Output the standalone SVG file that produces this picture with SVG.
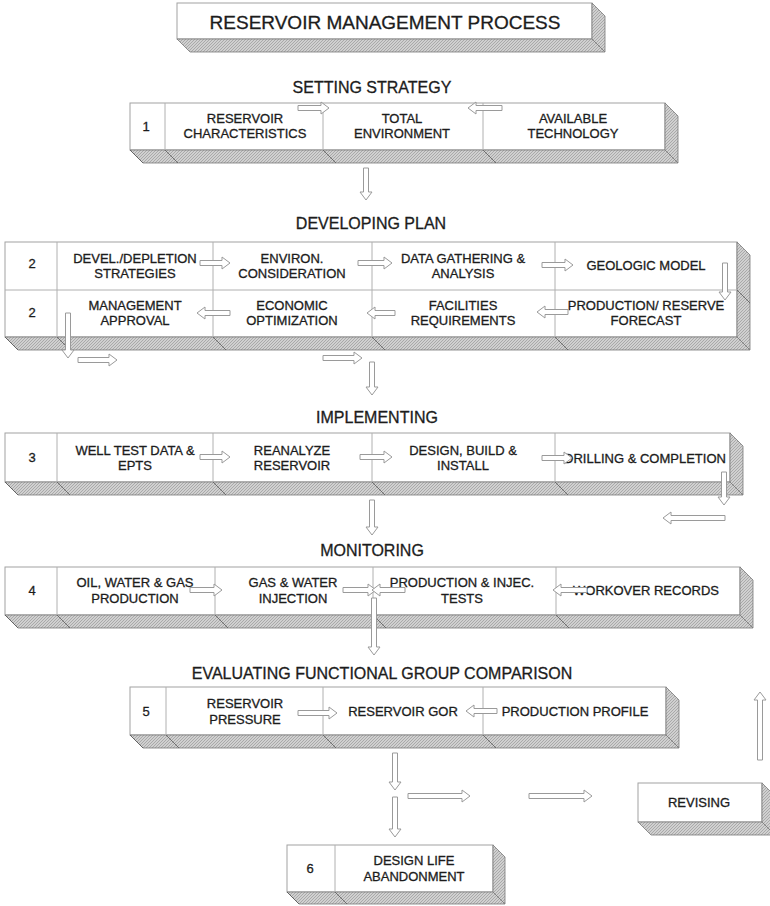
<svg xmlns="http://www.w3.org/2000/svg" width="770" height="906" viewBox="0 0 770 906">
<style>
.front{fill:#fff;stroke:#a2a2a2;stroke-width:1}
.shade{fill:url(#hatch);stroke:#7a7a7a;stroke-width:0.8}
.div{stroke:#b0b0b0;stroke-width:1;fill:none}
.slant{stroke:#5a5a5a;stroke-width:0.8;fill:none}
.arr{fill:#fff;stroke:#9a9a9a;stroke-width:1}
text{font-family:"Liberation Sans",Arial,sans-serif;fill:#1c1c1c;stroke:#1c1c1c;stroke-width:0.3;text-anchor:middle}
.t{font-size:13px}
.h{font-size:16px}
.ti{font-size:19px}
</style>
<defs>
<pattern id="hatch" width="3" height="3" patternUnits="userSpaceOnUse">
<rect width="3" height="3" fill="#d0d0d0"/>
<path d="M0,3 L3,0" stroke="#a0a0a0" stroke-width="0.8"/>
</pattern>
</defs>
<rect width="770" height="906" fill="#fff"/>

<g id="title">
<rect class="front" x="177" y="3" width="415" height="36"/>
<polygon class="shade" points="177,39 592,39 605,52 190,52"/>
<polygon class="shade" points="592,3 605,16 605,52 592,39"/>
<text class="ti" x="385" y="29">RESERVOIR MANAGEMENT PROCESS</text>
</g>

<g id="labels">
<text class="h" x="372" y="93">SETTING STRATEGY</text>
<text class="h" x="371" y="229">DEVELOPING PLAN</text>
<text class="h" x="377" y="423">IMPLEMENTING</text>
<text class="h" x="372" y="556">MONITORING</text>
<text class="h" x="382" y="679">EVALUATING FUNCTIONAL GROUP COMPARISON</text>
</g>

<g id="row1">
<rect class="front" x="130" y="103" width="535" height="47"/>
<polygon class="shade" points="130,150 665,150 678,163 143,163"/>
<polygon class="shade" points="665,103 678,116 678,163 665,150"/>
<path class="div" d="M165,103V150M323,103V150M483,103V150"/>
<path class="slant" d="M130,150l13,13M165,150l13,13M323,150l13,13M483,150l13,13"/>
<g id="n1-num"><text class="t" x="146" y="131">1</text></g>
<g id="n1-res"><text class="t" x="245" y="122.5">RESERVOIR</text><text class="t" x="245" y="137.5">CHARACTERISTICS</text></g>
<g id="n1-env"><text class="t" x="402" y="122.5">TOTAL</text><text class="t" x="402" y="137.5">ENVIRONMENT</text></g>
<g id="n1-tech"><text class="t" x="573" y="122.5">AVAILABLE</text><text class="t" x="573" y="137.5">TECHNOLOGY</text></g>
</g>

<g id="row2">
<rect class="front" x="5" y="242" width="732" height="95"/>
<polygon class="shade" points="5,337 737,337 750,350 18,350"/>
<polygon class="shade" points="737,242 750,255 750,350 737,337"/>
<path class="div" d="M5,290H737M57,242V337M213,242V337M372,242V337M555,242V337"/>
<path class="slant" d="M5,337l13,13M57,337l13,13M213,337l13,13M372,337l13,13M555,337l13,13M737,290l13,13"/>
<g id="n2-num-a"><text class="t" x="32" y="268">2</text></g>
<g id="n2-devel"><text class="t" x="135" y="262.5">DEVEL./DEPLETION</text><text class="t" x="135" y="277.5">STRATEGIES</text></g>
<g id="n2-environ"><text class="t" x="292" y="262.5">ENVIRON.</text><text class="t" x="292" y="277.5">CONSIDERATION</text></g>
<g id="n2-data"><text class="t" x="463" y="262.5">DATA GATHERING &amp;</text><text class="t" x="463" y="277.5">ANALYSIS</text></g>
<g id="n2-geo"><text class="t" x="646" y="269.5">GEOLOGIC MODEL</text></g>
<g id="n2-num-b"><text class="t" x="32" y="317">2</text></g>
<g id="n2-mgmt"><text class="t" x="135" y="309.5">MANAGEMENT</text><text class="t" x="135" y="324.5">APPROVAL</text></g>
<g id="n2-econ"><text class="t" x="292" y="309.5">ECONOMIC</text><text class="t" x="292" y="324.5">OPTIMIZATION</text></g>
<g id="n2-fac"><text class="t" x="463" y="309.5">FACILITIES</text><text class="t" x="463" y="324.5">REQUIREMENTS</text></g>
<g id="n2-prod"><text class="t" x="646" y="309.5">PRODUCTION/ RESERVE</text><text class="t" x="646" y="324.5">FORECAST</text></g>
</g>

<g id="row3">
<rect class="front" x="5" y="433" width="725" height="49"/>
<polygon class="shade" points="5,482 730,482 743,495 18,495"/>
<polygon class="shade" points="730,433 743,446 743,495 730,482"/>
<path class="div" d="M57,433V482M213,433V482M372,433V482M555,433V482"/>
<path class="slant" d="M5,482l13,13M57,482l13,13M213,482l13,13M372,482l13,13M555,482l13,13"/>
<g id="n3-num"><text class="t" x="32" y="462">3</text></g>
<g id="n3-well"><text class="t" x="135" y="454.5">WELL TEST DATA &amp;</text><text class="t" x="135" y="469.5">EPTS</text></g>
<g id="n3-rean"><text class="t" x="292" y="454.5">REANALYZE</text><text class="t" x="292" y="469.5">RESERVOIR</text></g>
<g id="n3-design"><text class="t" x="463" y="454.5">DESIGN, BUILD &amp;</text><text class="t" x="463" y="469.5">INSTALL</text></g>
<g id="n3-drill"><text class="t" x="645" y="462.5">DRILLING &amp; COMPLETION</text></g>
</g>

<g id="row4">
<rect class="front" x="5" y="567" width="735" height="48"/>
<polygon class="shade" points="5,615 740,615 753,628 18,628"/>
<polygon class="shade" points="740,567 753,580 753,628 740,615"/>
<path class="div" d="M57,567V615M215,567V615M373,567V615M556,567V615"/>
<path class="slant" d="M5,615l13,13M57,615l13,13M215,615l13,13M373,615l13,13M556,615l13,13"/>
<g id="n4-num"><text class="t" x="32" y="594.5">4</text></g>
<g id="n4-oil"><text class="t" x="135" y="586.5">OIL, WATER &amp; GAS</text><text class="t" x="135" y="602.5">PRODUCTION</text></g>
<g id="n4-gas"><text class="t" x="293" y="586.5">GAS &amp; WATER</text><text class="t" x="293" y="602.5">INJECTION</text></g>
<g id="n4-tests"><text class="t" x="462" y="586.5">PRODUCTION &amp; INJEC.</text><text class="t" x="462" y="602.5">TESTS</text></g>
<g id="n4-work"><text class="t" x="646" y="594.5">WORKOVER RECORDS</text></g>
</g>

<g id="row5">
<rect class="front" x="130" y="687" width="536" height="48"/>
<polygon class="shade" points="130,735 666,735 679,748 143,748"/>
<polygon class="shade" points="666,687 679,700 679,748 666,735"/>
<path class="div" d="M166,687V735M323,687V735M483,687V735"/>
<path class="slant" d="M130,735l13,13M166,735l13,13M323,735l13,13M483,735l13,13"/>
<g id="n5-num"><text class="t" x="146" y="715.5">5</text></g>
<g id="n5-press"><text class="t" x="245" y="707.5">RESERVOIR</text><text class="t" x="245" y="723.5">PRESSURE</text></g>
<g id="n5-gor"><text class="t" x="403" y="715.5">RESERVOIR GOR</text></g>
<g id="n5-prof"><text class="t" x="575" y="715.5">PRODUCTION PROFILE</text></g>
</g>

<g id="revising">
<rect class="front" x="638" y="783" width="124" height="39"/>
<polygon class="shade" points="638,822 762,822 775,835 651,835"/>
<polygon class="shade" points="762,783 775,796 775,835 762,822"/>
<text class="t" x="699" y="806.5">REVISING</text>
</g>

<g id="row6">
<rect class="front" x="287" y="845" width="206" height="47"/>
<polygon class="shade" points="287,892 493,892 505,904 299,904"/>
<polygon class="shade" points="493,845 505,857 505,904 493,892"/>
<path class="div" d="M335,845V892"/>
<path class="slant" d="M287,892l12,12M335,892l12,12"/>
<g id="n6-num"><text class="t" x="310" y="872.5">6</text></g>
<g id="n6-design"><text class="t" x="414" y="864.5">DESIGN LIFE</text><text class="t" x="414" y="880.5">ABANDONMENT</text></g>
</g>

<g id="connectors">
<polygon class="arr" points="298,105.5 321,105.5 321,102 329,108 321,114 321,110.5 298,110.5"/>
<polygon class="arr" points="502,105.5 476,105.5 476,102 468,108 476,114 476,110.5 502,110.5"/>
<polygon class="arr" points="363.5,168 363.5,192 360,192 366,200 372,192 368.5,192 368.5,168"/>
<polygon class="arr" points="200,260.5 222,260.5 222,257 230,263 222,269 222,265.5 200,265.5"/>
<polygon class="arr" points="358,260.5 384,260.5 384,257 392,263 384,269 384,265.5 358,265.5"/>
<polygon class="arr" points="542,262.5 565,262.5 565,259 573,265 565,271 565,267.5 542,267.5"/>
<polygon class="arr" points="722.5,263 722.5,292 719,292 725,300 731,292 727.5,292 727.5,263"/>
<polygon class="arr" points="568,309.5 545,309.5 545,306 537,312 545,318 545,314.5 568,314.5"/>
<polygon class="arr" points="395,310.5 375,310.5 375,307 367,313 375,319 375,315.5 395,315.5"/>
<polygon class="arr" points="230,310.5 205,310.5 205,307 197,313 205,319 205,315.5 230,315.5"/>
<polygon class="arr" points="65.5,313 65.5,350 62,350 68,358 74,350 70.5,350 70.5,313"/>
<polygon class="arr" points="78,357.5 109,357.5 109,354 117,360 109,366 109,362.5 78,362.5"/>
<polygon class="arr" points="323,355.5 354,355.5 354,352 362,358 354,364 354,360.5 323,360.5"/>
<polygon class="arr" points="369.5,362 369.5,387 366,387 372,395 378,387 374.5,387 374.5,362"/>
<polygon class="arr" points="200,454.5 222,454.5 222,451 230,457 222,463 222,459.5 200,459.5"/>
<polygon class="arr" points="360,454.5 384,454.5 384,451 392,457 384,463 384,459.5 360,459.5"/>
<polygon class="arr" points="542,455.5 564,455.5 564,452 572,458 564,464 564,460.5 542,460.5"/>
<polygon class="arr" points="721.5,472 721.5,497 718,497 724,505 730,497 726.5,497 726.5,472"/>
<polygon class="arr" points="725,515.5 671,515.5 671,512 663,518 671,524 671,520.5 725,520.5"/>
<polygon class="arr" points="369.5,500 369.5,527 366,527 372,535 378,527 374.5,527 374.5,500"/>
<polygon class="arr" points="190,587.5 214,587.5 214,584 222,590 214,596 214,592.5 190,592.5"/>
<polygon class="arr" points="343,587.5 368,587.5 368,584 376,590 368,596 368,592.5 343,592.5"/>
<polygon class="arr" points="405,587.5 380,587.5 380,584 372,590 380,596 380,592.5 405,592.5"/>
<polygon class="arr" points="587,587.5 561,587.5 561,584 553,590 561,596 561,592.5 587,592.5"/>
<polygon class="arr" points="371.5,598 371.5,647 368,647 374,655 380,647 376.5,647 376.5,598"/>
<polygon class="arr" points="298,710.5 329,710.5 329,707 337,713 329,719 329,715.5 298,715.5"/>
<polygon class="arr" points="497,708.5 474,708.5 474,705 466,711 474,717 474,713.5 497,713.5"/>
<polygon class="arr" points="392.5,753 392.5,782 389,782 395,790 401,782 397.5,782 397.5,753"/>
<polygon class="arr" points="392.5,797 392.5,829 389,829 395,837 401,829 397.5,829 397.5,797"/>
<polygon class="arr" points="408,793.5 462,793.5 462,790 470,796 462,802 462,798.5 408,798.5"/>
<polygon class="arr" points="529,793.5 584,793.5 584,790 592,796 584,802 584,798.5 529,798.5"/>
<polygon class="arr" points="757.5,760 757.5,700 754,700 760,692 766,700 762.5,700 762.5,760"/>
</g>
</svg>
